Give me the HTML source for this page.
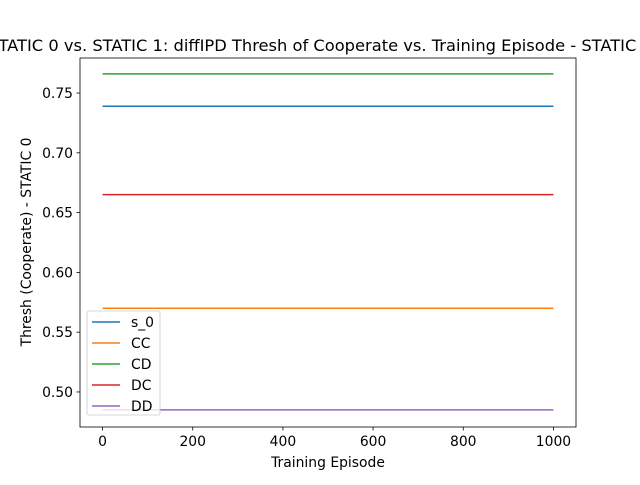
<!DOCTYPE html>
<html><head><meta charset="utf-8"><style>
body{margin:0;background:#fff;}
svg text{font-family:"DejaVu Sans","Liberation Sans",sans-serif;fill:#000;}
</style></head><body>
<svg width="640" height="480" xmlns="http://www.w3.org/2000/svg">
<rect width="640" height="480" fill="#fff"/>
<text x="320" y="51" font-size="16.3" text-anchor="middle">STATIC 0 vs. STATIC 1: diffIPD Thresh of Cooperate vs. Training Episode - STATIC 0</text>
<g id="plot"></g>
<rect x="80" y="58" width="496" height="369" fill="none" stroke="#000" stroke-width="0.8"/>
<text x="328" y="467" font-size="13.9" text-anchor="middle">Training Episode</text>
<text transform="translate(31,242) rotate(-90)" font-size="13.9" text-anchor="middle">Thresh (Cooperate) - STATIC 0</text>
<g id="legend"></g>
</svg>
<script>
const seriesNames=["s_0","CC","CD","DC","DD"];
const seriesValues=[0.739,0.570,0.766,0.665,0.485];
const seriesColors=["#1f77b4","#ff7f0e","#2ca02c","#d62728","#9467bd"];
const xStart=0, xEnd=1000;
const xTicks=[0,200,400,600,800,1000];
const yTicks=[0.50,0.55,0.60,0.65,0.70,0.75];
const NS="http://www.w3.org/2000/svg";
const L=80,R=576,T=58,B=427;
const xMin=-50,xMax=1050,yMin=0.4707,yMax=0.7793;
const xs=v=>L+(v-xMin)/(xMax-xMin)*(R-L);
const ys=v=>B-(v-yMin)/(yMax-yMin)*(B-T);
const plot=document.getElementById('plot');
function mk(t,a,p){const e=document.createElementNS(NS,t);for(const k in a)e.setAttribute(k,a[k]);(p||plot).appendChild(e);return e;}
xTicks.forEach(v=>{
  const x=xs(v);
  const tk=mk('line',{x1:x,x2:x,y1:B,y2:B+3.5,stroke:'#000','stroke-width':0.8});
  
  
  const tx=mk('text',{x:x,y:B+19,'font-size':13.9,'text-anchor':'middle'});
  tx.textContent=v;
  
  
});
yTicks.forEach(v=>{
  const y=ys(v);
  const tk=mk('line',{x1:L-3.5,x2:L,y1:y,y2:y,stroke:'#000','stroke-width':0.8});
  
  
  const tx=mk('text',{x:L-7,y:y+5,'font-size':13.9,'text-anchor':'end'});
  tx.textContent=v.toFixed(2);
  
  
});
seriesValues.forEach((v,i)=>{
  const ln=mk('line',{x1:xs(xStart),x2:xs(xEnd),y1:ys(v),y2:ys(v),stroke:seriesColors[i],'stroke-width':1.5});
  
  
});
const lg=document.getElementById('legend');
const box=mk('rect',{x:87,y:311,width:73,height:104,rx:2,fill:'#fff','fill-opacity':0.8,stroke:'#ccc','stroke-width':0.8},lg);


seriesNames.forEach((n,i)=>{
  const y=322+i*21;
  const l=mk('line',{x1:92,x2:120,y1:y,y2:y,stroke:seriesColors[i],'stroke-width':1.5},lg);
  
  
  const t=mk('text',{x:131,y:y+5,'font-size':13.9},lg);
  t.textContent=n;
  
  
});
</script>
</body></html>
